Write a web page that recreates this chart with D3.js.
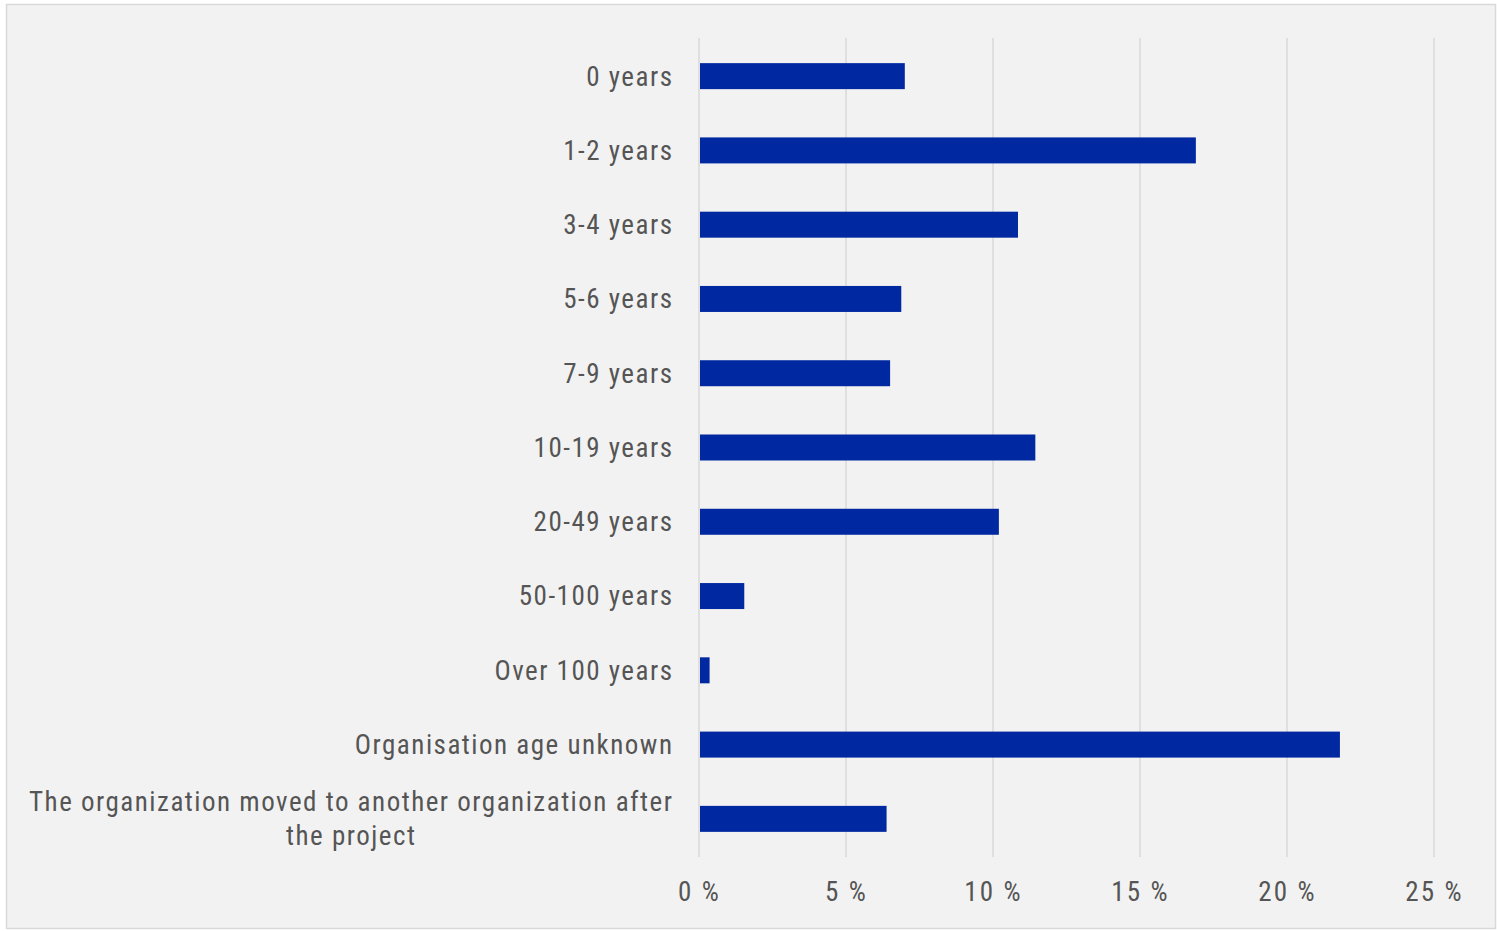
<!DOCTYPE html>
<html>
<head>
<meta charset="utf-8">
<script src="https://cdn.jsdelivr.net/npm/d3@7"></script>
<style>
  html, body { margin: 0; padding: 0; background: #ffffff; }
  svg { display: block; }
  .lbl { font-family: "Roboto Condensed", "Liberation Sans Narrow", "Open Sans", sans-serif; fill: #555555; }
</style>
</head>
<body>
<svg id="chart" width="1497" height="931"></svg>
<script>
// Organisation age categories (top to bottom)
const categories = [
  "0 years",
  "1-2 years",
  "3-4 years",
  "5-6 years",
  "7-9 years",
  "10-19 years",
  "20-49 years",
  "50-100 years",
  "Over 100 years",
  "Organisation age unknown",
  "The organization moved to another organization after|the project"
];
// Share of organisations, percent
const values = [7.0, 16.9, 10.85, 6.88, 6.5, 11.44, 10.2, 1.54, 0.36, 21.8, 6.38];
// Axis ticks, percent
const tickValues = [0, 5, 10, 15, 20, 25];

const svg = d3.select("#chart");

// panel background and frame
svg.append("rect")
  .attr("x", 6.5).attr("y", 4.5)
  .attr("width", 1489).attr("height", 924)
  .attr("fill", "#f2f2f2")
  .attr("stroke", "#d9d9d9")
  .attr("stroke-width", 1.5);

const x = d3.scaleLinear().domain([0, 25]).range([699, 1434]);
const y = d3.scaleBand().domain(categories).range([39, 856]).paddingInner(0.65).paddingOuter(0.325);

// vertical gridlines
svg.append("g")
  .selectAll("line")
  .data(tickValues)
  .join("line")
  .attr("x1", d => x(d)).attr("x2", d => x(d))
  .attr("y1", 38).attr("y2", 857)
  .attr("stroke", "#d9d9d9")
  .attr("stroke-width", 1.5);

// bars
svg.append("g")
  .selectAll("rect")
  .data(values)
  .join("rect")
  .attr("x", x(0) + 1)
  .attr("y", (d, i) => y(categories[i]))
  .attr("width", d => x(d) - x(0) - 1)
  .attr("height", y.bandwidth())
  .attr("fill", "#0028a0");

// x-axis tick labels
const xAxis = d3.axisBottom(x).tickValues(tickValues).tickSize(0).tickFormat(d => d + " %");
const gx = svg.append("g").attr("transform", "translate(0,879)").call(xAxis);
gx.select(".domain").remove();
gx.selectAll("text")
  .attr("class", "lbl")
  .attr("font-size", 27)
  .attr("letter-spacing", 2.2)
  .attr("fill", "#555555");

// category labels, right aligned; wrapped label lines are centred
const labelRight = 673.5;
const fs = 27, ls = 1.5;
const gy = svg.append("g");
categories.forEach((c, i) => {
  const lines = c.split("|");
  const cy = y(c) + y.bandwidth() / 2;
  const lh = 34;
  if (lines.length === 1) {
    gy.append("text")
      .attr("class", "lbl")
      .attr("x", labelRight)
      .attr("y", cy)
      .attr("dy", "0.35em")
      .attr("text-anchor", "end")
      .attr("font-size", fs)
      .attr("letter-spacing", ls)
      .text(lines[0]);
  } else {
    const t = gy.append("text")
      .attr("class", "lbl")
      .attr("font-size", fs)
      .attr("letter-spacing", ls)
      .text(lines[0])
      .attr("x", 0).attr("y", 0);
    const w = t.node().getComputedTextLength();
    const cx = labelRight - w / 2;
    t.remove();
    lines.forEach((ln, j) => {
      gy.append("text")
        .attr("class", "lbl")
        .attr("x", cx)
        .attr("y", cy + (j - (lines.length - 1) / 2) * lh)
        .attr("dy", "0.35em")
        .attr("text-anchor", "middle")
        .attr("font-size", fs)
        .attr("letter-spacing", ls)
        .text(ln);
    });
  }
});
</script>
</body>
</html>
